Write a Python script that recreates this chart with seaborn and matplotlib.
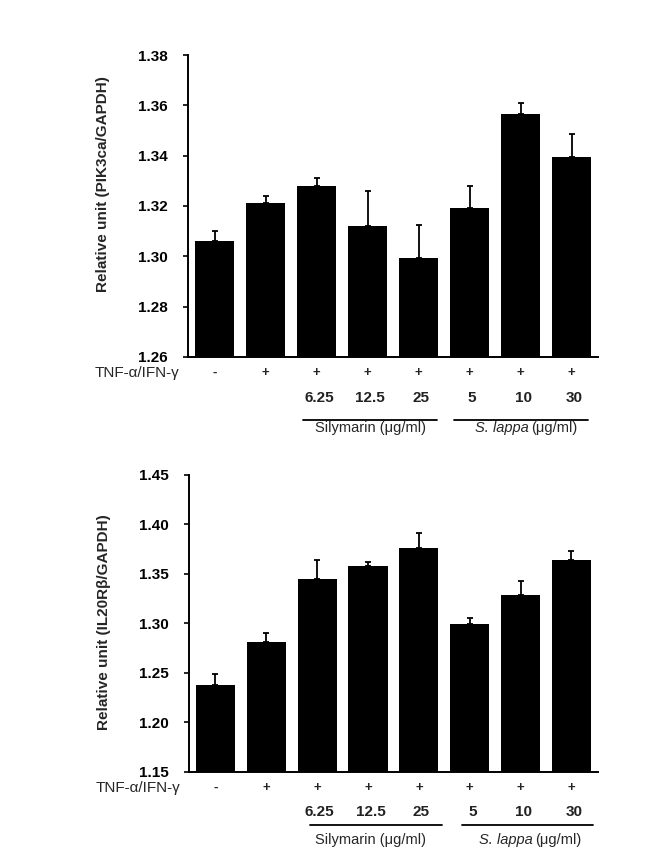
import numpy as np
import pandas as pd
import matplotlib
matplotlib.use("Agg")
import matplotlib.pyplot as plt
import matplotlib.transforms as mtransforms
import seaborn as sns

# treatment layout (shared by both panels)
groups = ["ctrl", "tnf", "sil6.25", "sil12.5", "sil25", "sl5", "sl10", "sl30"]
tnf_signs = ["-", "+", "+", "+", "+", "+", "+", "+"]
dose_labels = ["", "", "6.25", "12.5", "25", "5", "10", "30"]

# PIK3ca / GAPDH
pik3_values = [1.306, 1.321, 1.328, 1.312, 1.2995, 1.319, 1.3565, 1.3395]
pik3_errors = [0.004, 0.003, 0.0033, 0.0138, 0.0128, 0.0088, 0.0043, 0.0093]
pik3_ticks = [1.26, 1.28, 1.30, 1.32, 1.34, 1.36, 1.38]

# IL20Rb / GAPDH
il20_values = [1.2375, 1.2813, 1.3445, 1.358, 1.3757, 1.2996, 1.3287, 1.364]
il20_errors = [0.011, 0.0085, 0.0195, 0.0043, 0.016, 0.006, 0.0144, 0.0095]
il20_ticks = [1.15, 1.20, 1.25, 1.30, 1.35, 1.40, 1.45]

sns.set_style("ticks")
plt.rcParams["font.family"] = ["Liberation Sans", "DejaVu Sans"]


def draw_panel(ax, values, errors, ticks, ylabel, rows, label_y, lines, group_x, split_x):
    df = pd.DataFrame({"group": groups, "value": values})
    sns.barplot(data=df, x="group", y="value", color="black", width=0.77,
                linewidth=0, errorbar=None, ax=ax)
    pos = np.arange(len(groups))
    ax.errorbar(pos, values, yerr=[np.zeros(len(errors)), errors], fmt="none",
                ecolor="black", elinewidth=1.3, capsize=2.5, capthick=1.3)

    ax.set_ylim(ticks[0], ticks[-1])
    ax.set_yticks(ticks)
    ax.set_yticklabels([f"{t:.2f}" for t in ticks], fontweight="bold", fontsize=11,
                       color="#222222")
    ax.set_xlim(-0.52, 7.52)
    ax.set_xticks([])
    ax.set_xlabel("")
    ax.set_ylabel(ylabel, fontweight="bold", fontsize=11)
    ax.yaxis.set_label_coords(-0.19, label_y)
    ax.tick_params(axis="y", direction="out", length=3.5, width=1.2, pad=11, colors="black")
    sns.despine(ax=ax)
    for s in ["left", "bottom"]:
        ax.spines[s].set_linewidth(1.4)
        ax.spines[s].set_color("black")

    trans = mtransforms.blended_transform_factory(ax.transData, ax.transAxes)
    y_sign, y_dose, y_line, y_group = rows
    ax.text(-0.02, y_sign, "TNF-\u03b1/IFN-\u03b3", transform=ax.transAxes,
            ha="right", va="center", fontsize=11)
    for i in pos:
        ax.text(i, y_sign, tnf_signs[i], transform=trans, ha="center", va="center",
                fontsize=9.5, fontweight="bold")
        if dose_labels[i]:
            ax.text(i + 0.05, y_dose, dose_labels[i], transform=trans, ha="center",
                    va="center", fontsize=11, fontweight="bold", color="#222222")
    for x0, x1 in lines:
        ax.plot([x0, x1], [y_line, y_line], transform=trans, color="black",
                lw=1.3, clip_on=False)
    ax.text(group_x[0], y_group, "Silymarin (\u03bcg/ml)", transform=trans,
            ha="center", va="center", fontsize=10.5)
    ax.text(split_x, y_group, "S. lappa", transform=trans, ha="right",
            va="center", fontsize=10.5, fontstyle="italic")
    ax.text(split_x + 0.05, y_group, "(\u03bcg/ml)", transform=trans, ha="left",
            va="center", fontsize=10.5)


fig = plt.figure(figsize=(6.46, 8.6), dpi=100)
ax_top = fig.add_axes([0.291, 0.585, 0.635, 0.351])
ax_bot = fig.add_axes([0.2926, 0.1027, 0.633, 0.345])

draw_panel(ax_top, pik3_values, pik3_errors, pik3_ticks,
           "Relative unit (PIK3ca/GAPDH)", (-0.053, -0.136, -0.209, -0.235), 0.573,
           [(1.73, 4.36), (4.70, 7.32)], (3.05, 6.0), 6.15)
draw_panel(ax_bot, il20_values, il20_errors, il20_ticks,
           "Relative unit (IL20R\u03b2/GAPDH)", (-0.055, -0.136, -0.18, -0.23), 0.505,
           [(1.86, 4.45), (4.85, 7.42)], (3.04, 6.07), 6.24)

fig.savefig("out.png", dpi=100, facecolor="white")
